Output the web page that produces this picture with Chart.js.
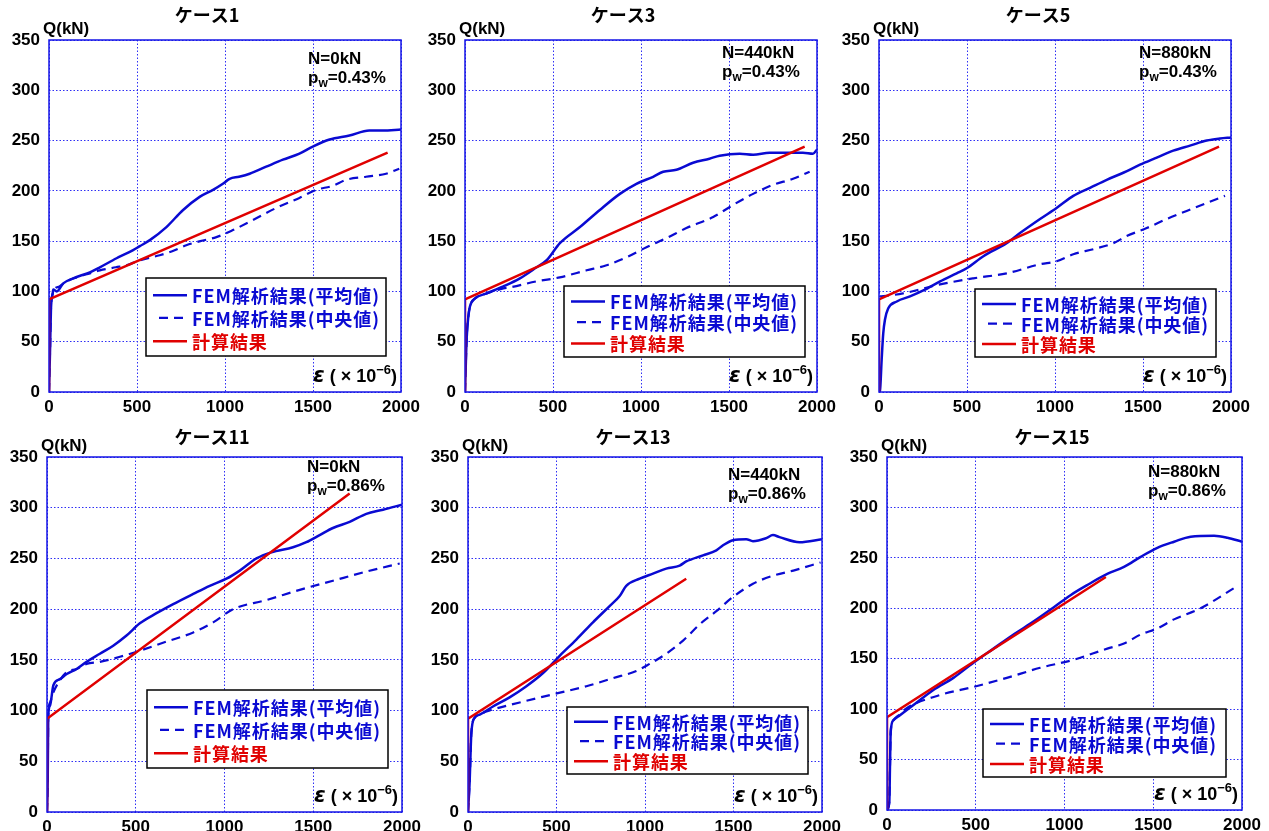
<!DOCTYPE html>
<html>
<head>
<meta charset="utf-8">
<script src="https://cdn.jsdelivr.net/npm/chart.js@4.4.1/dist/chart.umd.min.js"></script>
<style>
html,body{margin:0;padding:0;background:#fff;}
body{width:1269px;height:831px;overflow:hidden;position:relative;}
canvas{position:absolute;}
</style>
</head>
<body>
<script>
// ---------- tick labels ----------
const xTickValues = [0, 500, 1000, 1500, 2000];
const yTickValues = [0, 50, 100, 150, 200, 250, 300, 350];

// ---------- texts ----------
const caseTitles = ['ケース1', 'ケース3', 'ケース5', 'ケース11', 'ケース13', 'ケース15'];
const axialLoads = ['N=0kN', 'N=440kN', 'N=880kN', 'N=0kN', 'N=440kN', 'N=880kN'];
const shearRatios = ['=0.43%', '=0.43%', '=0.43%', '=0.86%', '=0.86%', '=0.86%'];
const seriesLabels = ['FEM解析結果(平均値)', 'FEM解析結果(中央値)', '計算結果'];

// ---------- data: [strain ×10^-6, Q kN] ----------
const case1Mean = [[0,0],[6,42],[11,82],[21,98],[24,102],[44,100],[81,108],[137,113],[232,119],[289,124],[384,133],[478,141],[516,145],[573,151],[667,164],[762,181],[856,194],[932,201],[988,207],[1026,212],[1080,214],[1140,217],[1234,224],[1329,231],[1423,237],[1499,244],[1594,251],[1707,255],[1820,260],[1896,260],[2000,261]];
const case1Median = [[0,0],[6,42],[11,82],[21,98],[30,102],[60,105],[100,110],[157,114],[232,118],[289,121],[380,124],[440,126],[516,131],[629,136],[700,140],[780,146],[860,150],[951,154],[1045,161],[1159,171],[1291,183],[1423,193],[1518,201],[1612,205],[1688,211],[1801,214],[1915,217],[1990,222]];
const case1Calc = [[0,0],[0,92],[1924,238]];

const case3Mean = [[0,0],[5,30],[10,55],[19,75],[28,85],[57,93],[123,98],[218,105],[312,113],[407,124],[464,131],[539,148],[653,164],[766,181],[880,197],[974,207],[1069,214],[1126,219],[1201,221],[1296,228],[1389,232],[1447,235],[1561,237],[1637,236],[1731,238],[1826,238],[1920,238],[1977,237],[2000,241]];
const case3Median = [[0,0],[5,30],[10,55],[19,75],[28,85],[57,93],[123,98],[218,103],[255,104],[407,110],[539,114],[691,121],[804,126],[918,134],[1031,144],[1145,153],[1258,163],[1410,174],[1523,186],[1637,197],[1750,206],[1864,212],[1958,219]];
const case3Calc = [[0,0],[0,92],[1930,244]];

const case5Mean = [[0,0],[6,2],[15,32],[24,58],[34,72],[52,83],[101,90],[176,95],[252,101],[347,110],[441,118],[498,123],[593,135],[725,148],[801,158],[915,172],[1009,183],[1104,195],[1199,203],[1294,211],[1388,218],[1483,226],[1578,233],[1672,240],[1767,245],[1862,250],[1938,252],[2000,253]];
const case5Median = [[6,95],[60,96],[136,98],[347,107],[536,113],[725,118],[915,127],[1009,130],[1104,137],[1218,142],[1332,148],[1407,155],[1521,163],[1635,172],[1748,180],[1862,188],[1966,195]];
const case5Calc = [[0,0],[0,92],[1932,244]];

const case11Mean = [[0,0],[4,30],[7,95],[17,105],[36,125],[73,131],[111,136],[167,141],[223,148],[298,156],[373,164],[448,174],[523,186],[617,196],[711,205],[824,215],[917,223],[1011,230],[1086,238],[1180,250],[1264,256],[1386,261],[1461,266],[1536,273],[1611,280],[1705,286],[1799,294],[1893,298],[2000,303]];
const case11Median = [[0,0],[4,30],[7,95],[17,108],[36,118],[73,130],[111,138],[167,141],[223,146],[298,148],[411,153],[523,159],[673,168],[824,177],[936,187],[1049,200],[1236,209],[1424,219],[1611,228],[1799,237],[1987,245]];
const case11Calc = [[0,0],[0,92],[1705,314]];

const case13Mean = [[0,0],[9,29],[19,78],[38,93],[66,96],[141,104],[235,113],[330,124],[424,137],[518,154],[612,170],[706,187],[800,203],[857,213],[894,223],[970,230],[1045,235],[1120,240],[1196,243],[1233,247],[1328,253],[1403,258],[1441,263],[1497,268],[1572,269],[1610,267],[1685,270],[1723,273],[1760,271],[1873,266],[2000,269]];
const case13Median = [[0,0],[9,29],[19,78],[38,93],[66,96],[104,99],[292,108],[480,116],[669,124],[819,132],[951,139],[1026,146],[1120,156],[1215,169],[1309,185],[1403,198],[1497,212],[1610,225],[1723,233],[1838,238],[1992,246]];
const case13Calc = [[0,0],[0,92],[1233,230]];

const case15Mean = [[0,0],[13,8],[17,45],[21,78],[36,89],[73,94],[149,104],[261,119],[374,131],[487,146],[600,160],[713,174],[827,187],[940,201],[1034,213],[1128,223],[1241,234],[1335,241],[1429,251],[1523,260],[1617,266],[1711,271],[1843,272],[1918,270],[2000,266]];
const case15Median = [[0,0],[13,8],[17,45],[21,78],[36,89],[73,95],[111,101],[299,114],[487,122],[675,131],[863,141],[1052,149],[1241,160],[1335,165],[1429,174],[1523,180],[1617,189],[1767,200],[1955,220]];
const case15Calc = [[0,0],[0,92],[1233,231]];

const meanSeries = [case1Mean, case3Mean, case5Mean, case11Mean, case13Mean, case15Mean];
const medianSeries = [case1Median, case3Median, case5Median, case11Median, case13Median, case15Median];
const calcSeries = [case1Calc, case3Calc, case5Calc, case11Calc, case13Calc, case15Calc];

// ---------- layout (page pixels) ----------
// plot area: left, top, right, bottom
const plotRects = [[49,40,401,392],[465,40,817,392],[879,40,1231,392],[47,457,402,812],[468,457,822,812],[887,457,1242,810]];
// legend box relative to plot area: dx, dy, w, h
const legendBoxes = [[97,238,240,78],[99,246,241,71],[96,249,241,68],[100,233,241,78],[99,250,241,67],[96,252,243,68]];
// title position relative to plot area left/top
const titlePos = [[158,-25],[158,-25],[159,-25],[165,-20],[165,-20],[165,-20]];
// N label: offset from right, y offset from top
const notePos = [[93,19],[95,13],[92,13],[95,10],[94,18],[94,15]];

const BLUE = '#0a0ad2';
const RED = '#e00000';
const GRID = '#2e2ef5';
const NUMFONT = '"Liberation Sans", Arial, sans-serif';
const JPFONT = '"Noto Sans CJK JP", "Liberation Sans", sans-serif';

const toPts = arr => arr.map(p => ({x: p[0], y: p[1]}));

const deco = {
  id: 'deco',
  afterDraw(chart, args, o) {
    const ctx = chart.ctx;
    const a = chart.chartArea;
    const i = o.idx;
    ctx.save();
    // frame
    ctx.strokeStyle = '#1414e6';
    ctx.lineWidth = 1.5;
    ctx.setLineDash([]);
    ctx.strokeRect(a.left, a.top, a.right - a.left, a.bottom - a.top);

    // title
    ctx.fillStyle = '#000';
    ctx.textBaseline = 'middle';
    ctx.textAlign = 'center';
    ctx.font = 'bold 18px ' + JPFONT;
    ctx.fillText(caseTitles[i], a.left + titlePos[i][0], a.top + titlePos[i][1]);

    // Q(kN)
    ctx.textAlign = 'left';
    ctx.font = 'bold 17px ' + NUMFONT;
    ctx.fillText('Q(kN)', a.left - 6, a.top - 11);

    // N and pw
    const nx = a.right - notePos[i][0];
    const ny = a.top + notePos[i][1];
    ctx.fillText(axialLoads[i], nx, ny);
    ctx.fillText('p', nx, ny + 19);
    const pw = ctx.measureText('p').width;
    ctx.font = 'bold 12px ' + NUMFONT;
    ctx.fillText('w', nx + pw, ny + 25);
    const ww = ctx.measureText('w').width;
    ctx.font = 'bold 17px ' + NUMFONT;
    ctx.fillText(shearRatios[i], nx + pw + ww, ny + 19);

    // epsilon label
    const ey = a.bottom - 15;
    const parts = [
      ['ε', 'italic bold 21px "DejaVu Sans", sans-serif', 0],
      [' ( ', 'bold 18px ' + NUMFONT, 0],
      ['× 10', 'bold 18px ' + NUMFONT, 0],
      ['−6', 'bold 13px ' + NUMFONT, -7],
      [')', 'bold 18px ' + NUMFONT, 0]
    ];
    let total = 0;
    parts.forEach(p => { ctx.font = p[1]; total += ctx.measureText(p[0]).width; });
    let ex = a.right - 4 - total;
    parts.forEach(p => {
      ctx.font = p[1];
      ctx.fillText(p[0], ex, ey + p[2]);
      ex += ctx.measureText(p[0]).width;
    });

    // legend box
    const lb = legendBoxes[i];
    const bx = a.left + lb[0], by = a.top + lb[1], bw = lb[2], bh = lb[3];
    ctx.fillStyle = '#fff';
    ctx.fillRect(bx, by, bw, bh);
    ctx.strokeStyle = '#000';
    ctx.lineWidth = 1.5;
    ctx.strokeRect(bx, by, bw, bh);
    const rows = [0.22, 0.51, 0.81];
    ctx.font = 'bold 18px ' + JPFONT;
    ctx.letterSpacing = '0px';
    const w0 = ctx.measureText(seriesLabels[0]).width;
    const spacing = (188 - w0) / seriesLabels[0].length;
    chart.data.datasets.forEach((ds, k) => {
      const ry = by + bh * rows[k];
      ctx.strokeStyle = ds.borderColor;
      ctx.lineWidth = ds.borderWidth;
      ctx.setLineDash(ds.borderDash || []);
      ctx.beginPath();
      if (ds.borderDash) {
        ctx.moveTo(bx + 13, ry); ctx.lineTo(bx + 41, ry);
      } else {
        ctx.moveTo(bx + 7, ry); ctx.lineTo(bx + 41, ry);
      }
      ctx.stroke();
      ctx.setLineDash([]);
      ctx.fillStyle = ds.borderColor;
      ctx.letterSpacing = spacing + 'px';
      ctx.fillText(ds.label, bx + 46, ry + 1);
      ctx.letterSpacing = '0px';
    });
    ctx.restore();
  }
};

plotRects.forEach((r, i) => {
  const padL = 10, padT = 45, padR = 30, padB = 10, yW = 50, xH = 30;
  const W = r[2] - r[0], H = r[3] - r[1];
  const cv = document.createElement('canvas');
  cv.width = W + padL + yW + padR;
  cv.height = H + padT + xH + padB;
  cv.style.left = (r[0] - padL - yW) + 'px';
  cv.style.top = (r[1] - padT) + 'px';
  document.body.appendChild(cv);

  new Chart(cv, {
    type: 'line',
    data: {
      datasets: [
        {label: seriesLabels[0], data: toPts(meanSeries[i]), borderColor: BLUE, borderWidth: 2.5, order: 1, cubicInterpolationMode: 'monotone'},
        {label: seriesLabels[1], data: toPts(medianSeries[i]), borderColor: BLUE, borderWidth: 2.2, borderDash: [9, 6], order: 2, cubicInterpolationMode: 'monotone'},
        {label: seriesLabels[2], data: toPts(calcSeries[i]), borderColor: RED, borderWidth: 2.5, order: 0, tension: 0}
      ]
    },
    options: {
      responsive: false,
      animation: false,
      devicePixelRatio: 1,
      parsing: false,
      layout: {padding: {left: padL, top: padT, right: padR, bottom: padB}},
      elements: {point: {radius: 0}, line: {fill: false, borderCapStyle: 'butt'}},
      plugins: {legend: {display: false}, tooltip: {enabled: false}, title: {display: false}, deco: {idx: i}},
      scales: {
        x: {
          type: 'linear', min: 0, max: 2000,
          afterBuildTicks: s => { s.ticks = xTickValues.map(v => ({value: v})); },
          afterFit: s => { s.height = xH; },
          grid: {color: GRID, lineWidth: 1, drawTicks: false},
          border: {display: false, dash: [1.5, 2]},
          ticks: {color: '#000', padding: 5, maxRotation: 0, autoSkip: false, callback: v => String(v), font: {family: NUMFONT, size: 17, weight: 'bold'}}
        },
        y: {
          type: 'linear', min: 0, max: 350,
          afterBuildTicks: s => { s.ticks = yTickValues.map(v => ({value: v})); },
          afterFit: s => { s.width = yW; },
          grid: {color: GRID, lineWidth: 1, drawTicks: false},
          border: {display: false, dash: [1.5, 2]},
          ticks: {color: '#000', padding: 9, autoSkip: false, callback: v => String(v), font: {family: NUMFONT, size: 17, weight: 'bold'}}
        }
      }
    },
    plugins: [deco]
  });
});
</script>
</body>
</html>
